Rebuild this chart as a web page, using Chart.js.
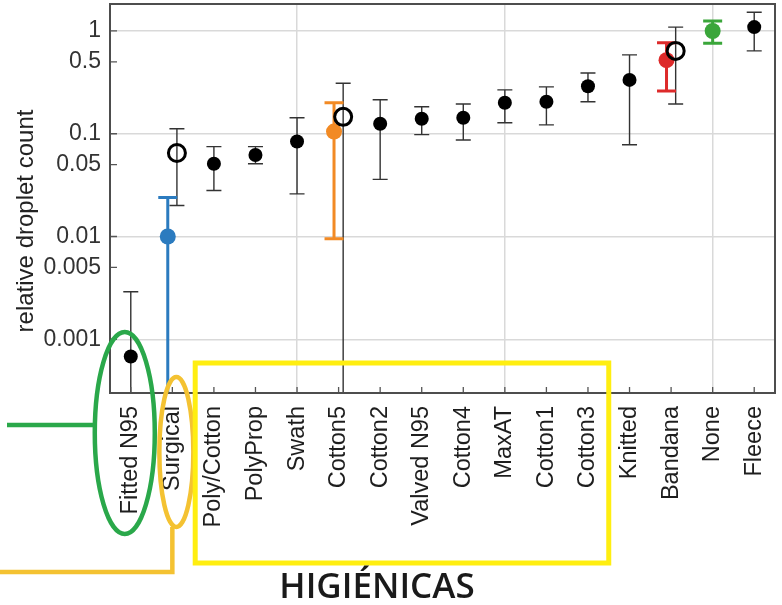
<!DOCTYPE html>
<html>
<head>
<meta charset="utf-8">
<script src="https://cdn.jsdelivr.net/npm/chart.js@4.4.1/dist/chart.umd.min.js"></script>
<style>
  body { margin: 0; background: #fff; }
  #wrap { width: 782px; height: 605px; }
</style>
</head>
<body>
<div id="wrap"><canvas id="maskChart"></canvas></div>
<script>
const categories = ['Fitted N95', 'Surgical', 'Poly/Cotton', 'PolyProp', 'Swath', 'Cotton5', 'Cotton2',
  'Valved N95', 'Cotton4', 'MaxAT', 'Cotton1', 'Cotton3', 'Knitted', 'Bandana', 'None', 'Fleece'];

// black filled markers (null where the mask has a coloured marker)
const blackValues = [0.00068, null, 0.051, 0.062, 0.084, null, 0.125, 0.14, 0.143, 0.20, 0.205, 0.29, 0.334, null, null, 1.09];
const blackLow = [0.000001, null, 0.028, 0.051, 0.026, null, 0.036, 0.098, 0.087, 0.128, 0.122, 0.205, 0.078, null, null, 0.64];
const blackHigh = [0.0029, null, 0.075, 0.075, 0.143, null, 0.214, 0.183, 0.195, 0.267, 0.286, 0.39, 0.585, null, null, 1.52];

// coloured markers
const colorValues = [null, 0.010, null, null, null, 0.105, null, null, null, null, null, null, null, 0.52, 1.0, null];
const colorLow = [null, 0.000001, null, null, null, 0.0095, null, null, null, null, null, null, null, 0.26, 0.76, null];
const colorHigh = [null, 0.024, null, null, null, 0.20, null, null, null, null, null, null, null, 0.77, 1.25, null];
const markerColors = [null, '#2b7bbf', null, null, null, '#f28a24', null, null, null, null, null, null, null, '#dd2a2a', '#3aa63a', null];

// open circles
const openValues = [null, 0.065, null, null, null, 0.146, null, null, null, null, null, null, null, 0.64, null, null];
const openLow = [null, 0.020, null, null, null, 0.000001, null, null, null, null, null, null, null, 0.195, null, null];
const openHigh = [null, 0.112, null, null, null, 0.31, null, null, null, null, null, null, null, 1.09, null, null];

const yTicks = [0.001, 0.005, 0.01, 0.05, 0.1, 0.5, 1];
const yTickLabels = ['0.001', '0.005', '0.01', '0.05', '0.1', '0.5', '1'];
const yGridValues = [0.001, 0.01, 0.1, 1];
const xGridEvery = 5;

function toPoints(values, low, high, offset) {
  const pts = [];
  values.forEach((v, i) => {
    if (v === null) return;
    pts.push({ x: i + 1 + offset, y: v, lo: low[i], hi: high[i], color: markerColors[i] });
  });
  return pts;
}

const pairOffset = 0.11;
const colorPts = toPoints(colorValues, colorLow, colorHigh, 0);
// where an open circle shares a category, the coloured one moves left
colorPts.forEach((p) => { if (openValues[Math.round(p.x) - 1] !== null) p.x -= pairOffset; });

const errorBars = {
  id: 'errorBars',
  beforeDatasetsDraw(chart) {
    const { ctx, chartArea } = chart;
    const xs = chart.scales.x, ys = chart.scales.y;
    ctx.save();
    ctx.beginPath();
    ctx.rect(chartArea.left, chartArea.top, chartArea.right - chartArea.left, chartArea.bottom - chartArea.top);
    ctx.clip();
    chart.data.datasets.forEach((ds) => {
      ds.data.forEach((d) => {
        const x = xs.getPixelForValue(d.x);
        const y1 = ys.getPixelForValue(d.lo);
        const y2 = ys.getPixelForValue(d.hi);
        ctx.strokeStyle = ds.errColor || d.color;
        ctx.lineWidth = ds.errWidth;
        ctx.beginPath();
        ctx.moveTo(x, y1); ctx.lineTo(x, y2);
        ctx.moveTo(x - ds.capHalf, y1); ctx.lineTo(x + ds.capHalf, y1);
        ctx.moveTo(x - ds.capHalf, y2); ctx.lineTo(x + ds.capHalf, y2);
        ctx.stroke();
      });
    });
    ctx.restore();
  }
};

const frameAndNotes = {
  id: 'frameAndNotes',
  afterDraw(chart) {
    const { ctx, chartArea } = chart;
    const xs = chart.scales.x, ys = chart.scales.y;
    const { left, right, top, bottom } = chartArea;
    ctx.save();
    // inward tick marks
    ctx.strokeStyle = '#555';
    ctx.lineWidth = 1.3;
    ctx.beginPath();
    categories.forEach((c, i) => {
      const x = xs.getPixelForValue(i + 1);
      ctx.moveTo(x, bottom); ctx.lineTo(x, bottom - 6);
    });
    yTicks.forEach((v) => {
      const y = ys.getPixelForValue(v);
      ctx.moveTo(left, y); ctx.lineTo(left + 7, y);
    });
    ctx.stroke();
    // box
    ctx.strokeStyle = '#4d4d4d';
    ctx.lineWidth = 2;
    ctx.strokeRect(left, top, right - left, bottom - top);

    // y axis title
    ctx.save();
    ctx.translate(26, 221);
    ctx.rotate(-Math.PI / 2);
    ctx.fillStyle = '#222';
    ctx.font = '24px "Liberation Sans", Arial, sans-serif';
    ctx.textAlign = 'center';
    ctx.textBaseline = 'middle';
    ctx.fillText('relative droplet count', 0, 0);
    ctx.restore();

    // hand-drawn highlights
    const x1 = xs.getPixelForValue(1), x2 = xs.getPixelForValue(2);
    ctx.lineWidth = 4.5;
    ctx.strokeStyle = '#2aa84a';
    ctx.beginPath();
    ctx.ellipse(x1 - 6, 433, 30, 101, 0, 0, Math.PI * 2);
    ctx.stroke();
    ctx.beginPath();
    ctx.moveTo(7, 425); ctx.lineTo(x1 - 36, 425);
    ctx.stroke();

    ctx.strokeStyle = '#f4c232';
    ctx.beginPath();
    ctx.ellipse(x2 + 4, 452, 17, 75, 0, 0, Math.PI * 2);
    ctx.stroke();
    ctx.beginPath();
    ctx.moveTo(x2, 527); ctx.lineTo(x2, 572); ctx.lineTo(0, 572);
    ctx.stroke();

    ctx.strokeStyle = '#ffee10';
    ctx.lineWidth = 5;
    const rx1 = xs.getPixelForValue(2.55), rx2 = xs.getPixelForValue(12.5);
    ctx.strokeRect(rx1, 363, rx2 - rx1, 200);

    ctx.fillStyle = '#1a1a1a';
    ctx.font = '600 35px "Open Sans", sans-serif';
    ctx.textAlign = 'center';
    ctx.textBaseline = 'alphabetic';
    ctx.fillText('HIGIÉNICAS', 377, 598);
    ctx.restore();
  }
};

const ctx = document.getElementById('maskChart').getContext('2d');
new Chart(ctx, {
  type: 'scatter',
  data: {
    datasets: [
      {
        label: 'open',
        data: toPoints(openValues, openLow, openHigh, pairOffset),
        pointRadius: 8.5,
        pointBorderWidth: 3,
        pointBackgroundColor: 'rgba(255,255,255,0)',
        pointBorderColor: '#000',
        errColor: '#333',
        errWidth: 1.4,
        capHalf: 7.5,
      },
      {
        label: 'black',
        data: toPoints(blackValues, blackLow, blackHigh, 0),
        pointRadius: 7,
        pointBorderWidth: 0,
        pointBackgroundColor: '#000',
        errColor: '#333',
        errWidth: 1.4,
        capHalf: 7.5,
      },
      {
        label: 'colour',
        data: colorPts,
        pointRadius: 8,
        pointBorderWidth: 0,
        pointBackgroundColor: colorPts.map((p) => p.color),
        errWidth: 3,
        capHalf: 9.5,
      },
    ],
  },
  options: {
    responsive: true,
    maintainAspectRatio: false,
    animation: false,
    layout: { autoPadding: false, padding: { top: 4, right: 7, left: 0, bottom: 0 } },
    plugins: { legend: { display: false }, tooltip: { enabled: false } },
    scales: {
      x: {
        type: 'linear',
        min: 0.5,
        max: 16.5,
        afterBuildTicks: (scale) => { scale.ticks = categories.map((c, i) => ({ value: i + 1 })); },
        afterFit: (scale) => {
          scale.height = 212;
          scale.paddingLeft = 0; scale.paddingRight = 0;
        },
        ticks: {
          autoSkip: false,
          minRotation: 90,
          maxRotation: 90,
          padding: 13,
          color: '#1e1e1e',
          font: { family: '"Liberation Sans", Arial, sans-serif', size: 23.5 },
          callback: (value) => categories[Math.round(value) - 1],
        },
        grid: {
          drawTicks: false,
          lineWidth: 1.5,
          color: (c) => (c.tick && c.tick.value % xGridEvery === 0 ? '#d9d9d9' : 'rgba(0,0,0,0)'),
        },
        border: { display: false },
      },
      y: {
        type: 'logarithmic',
        min: 0.000305,
        max: 1.83,
        afterBuildTicks: (scale) => { scale.ticks = yTicks.map((v) => ({ value: v })); },
        afterFit: (scale) => {
          scale.width = 110;
          scale.paddingTop = 0; scale.paddingBottom = 0;
        },
        ticks: {
          autoSkip: false,
          padding: 9,
          color: '#333',
          font: { family: '"Liberation Sans", Arial, sans-serif', size: 23 },
          callback: (value, index) => yTickLabels[index],
        },
        grid: {
          drawTicks: false,
          lineWidth: 1.5,
          color: (c) => (c.tick && yGridValues.includes(c.tick.value) ? '#d9d9d9' : 'rgba(0,0,0,0)'),
        },
        border: { display: false },
      },
    },
  },
  plugins: [errorBars, frameAndNotes],
});
</script>
</body>
</html>
